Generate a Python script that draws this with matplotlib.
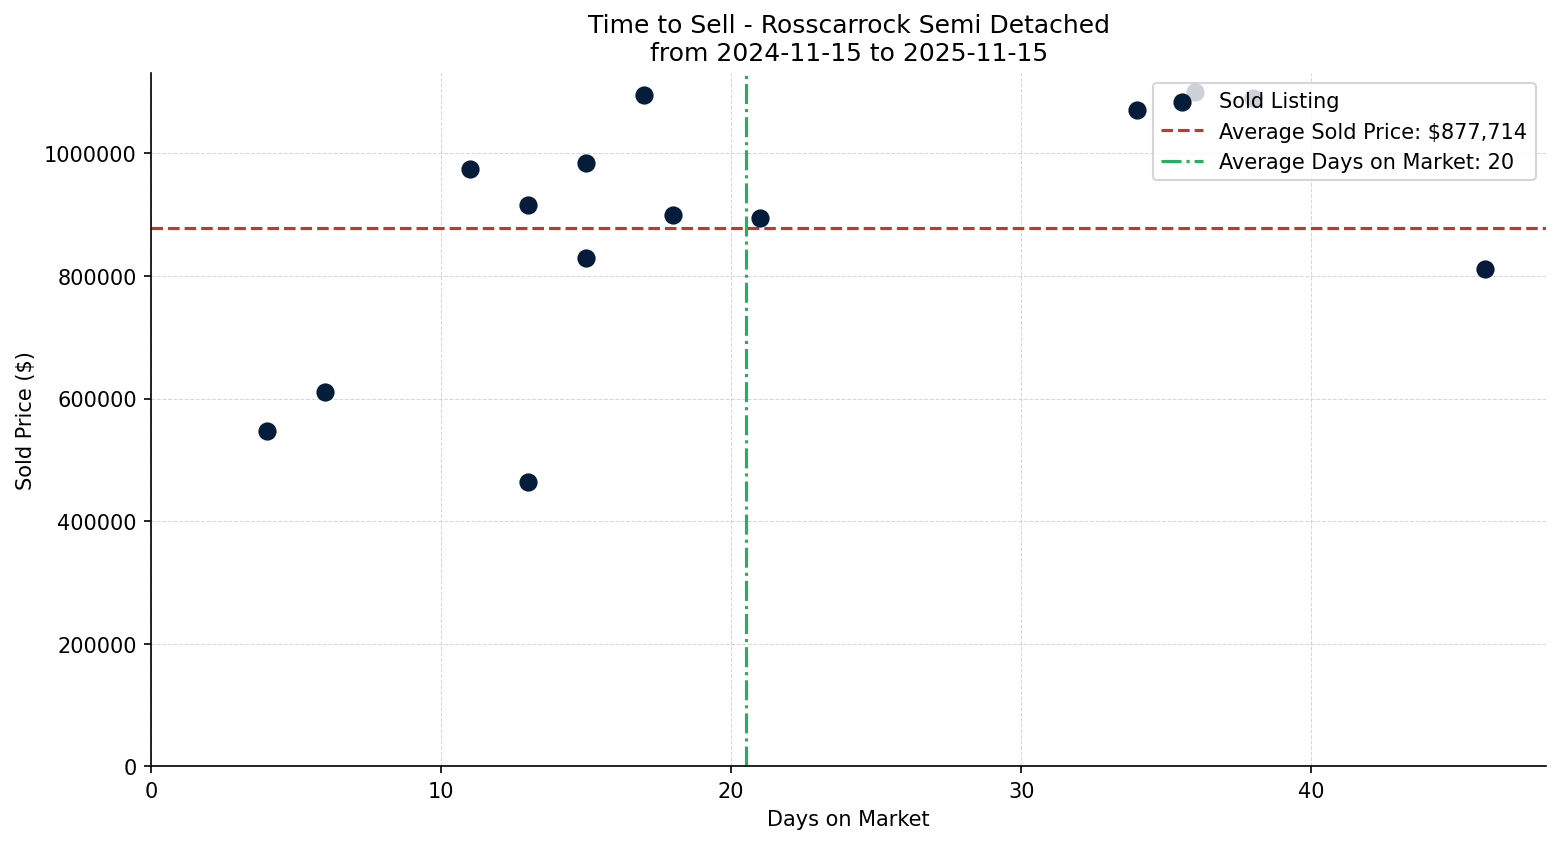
import numpy as np
import matplotlib
matplotlib.use("Agg")
from matplotlib import pyplot as plt

days_on_market = [4, 6, 11, 13, 13, 15, 15, 17, 18, 21, 34, 36, 38, 46]
sold_price = [
    547000, 611000, 975000, 915000, 464000, 985000, 830000,
    1095000, 899000, 895000, 1070000, 1100000, 1090000, 812000,
]

avg_price = np.mean(sold_price)
avg_days = np.mean(days_on_market)

fig, ax = plt.subplots(figsize=(10.4, 5.633), dpi=150)

ax.scatter(days_on_market, sold_price, s=60, color="#061c3b",
           label="Sold Listing", zorder=3)
ax.axhline(avg_price, color="#c0392b", linestyle="--", linewidth=1.5,
           label=f"Average Sold Price: ${avg_price:,.0f}")
ax.axvline(avg_days, color="#27ae60", linestyle="-.", linewidth=1.5,
           label=f"Average Days on Market: {int(avg_days)}")

ax.set_xlim(left=0)
ax.set_ylim(bottom=0)
ax.ticklabel_format(axis="y", style="plain")

ax.set_title("Time to Sell - Rosscarrock Semi Detached\nfrom 2024-11-15 to 2025-11-15",
             fontsize=12)
ax.set_xlabel("Days on Market")
ax.set_ylabel("Sold Price ($)")
ax.grid(True, linestyle="--", linewidth=0.5, alpha=0.5)
ax.spines["top"].set_visible(False)
ax.spines["right"].set_visible(False)
ax.legend(loc="upper right")

fig.subplots_adjust(left=0.097, right=0.991, top=0.913, bottom=0.092)
fig.savefig("out.png")
